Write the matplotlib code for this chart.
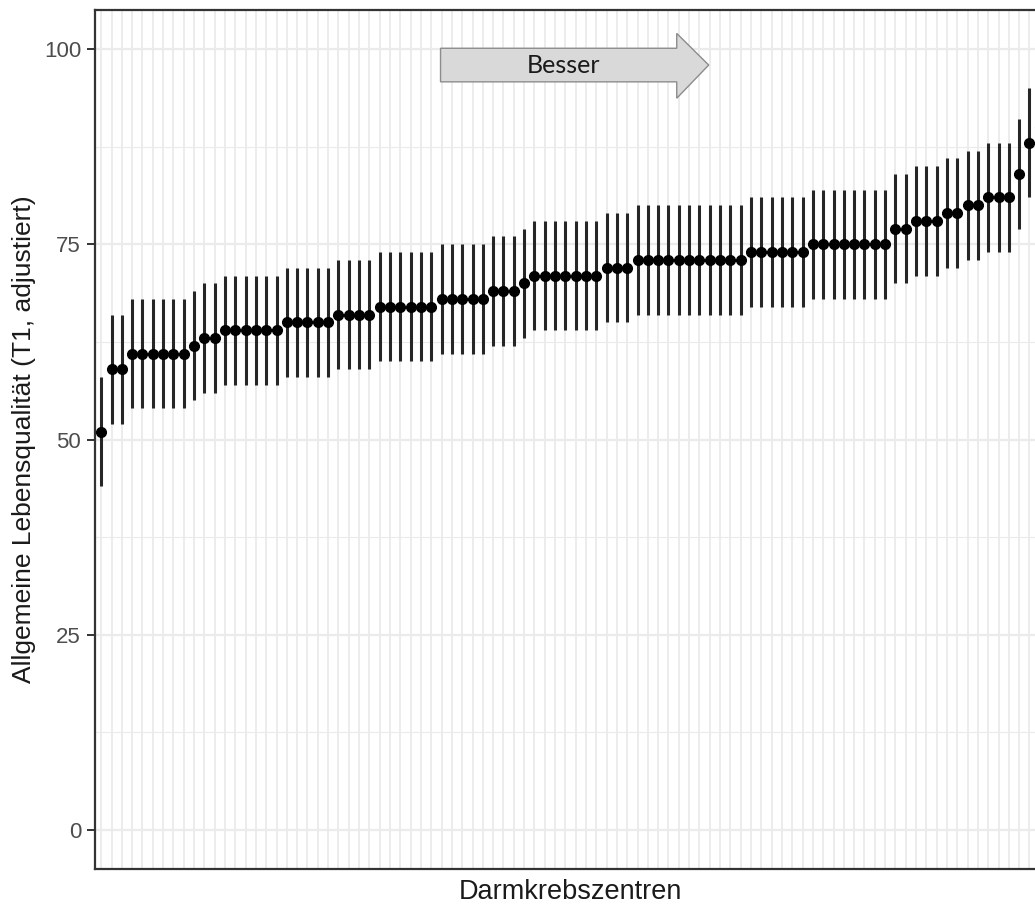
import matplotlib
matplotlib.use("Agg")
import matplotlib.pyplot as plt
import matplotlib.patches as patches
import numpy as np

# Adjusted quality-of-life score per centre (sorted) with 95% interval bounds
scores = [51, 59, 59, 61, 61, 61, 61, 61, 61, 62, 63, 63,
          64, 64, 64, 64, 64, 64, 65, 65, 65, 65, 65, 66, 66, 66, 66,
          67, 67, 67, 67, 67, 67, 68, 68, 68, 68, 68, 69, 69, 69, 70,
          71, 71, 71, 71, 71, 71, 71, 72, 72, 72,
          73, 73, 73, 73, 73, 73, 73, 73, 73, 73, 73,
          74, 74, 74, 74, 74, 74, 75, 75, 75, 75, 75, 75, 75, 75,
          77, 77, 78, 78, 78, 79, 79, 80, 80, 81, 81, 81, 84, 88, 90]
lower = [44, 52, 52, 54, 54, 54, 54, 54, 54, 55, 56, 56,
         57, 57, 57, 57, 57, 57, 58, 58, 58, 58, 58, 59, 59, 59, 59,
         60, 60, 60, 60, 60, 60, 61, 61, 61, 61, 61, 62, 62, 62, 63,
         64, 64, 64, 64, 64, 64, 64, 65, 65, 65,
         66, 66, 66, 66, 66, 66, 66, 66, 66, 66, 66,
         67, 67, 67, 67, 67, 67, 68, 68, 68, 68, 68, 68, 68, 68,
         70, 70, 71, 71, 71, 72, 72, 73, 73, 74, 74, 74, 77, 81, 83]
upper = [58, 66, 66, 68, 68, 68, 68, 68, 68, 69, 70, 70,
         71, 71, 71, 71, 71, 71, 72, 72, 72, 72, 72, 73, 73, 73, 73,
         74, 74, 74, 74, 74, 74, 75, 75, 75, 75, 75, 76, 76, 76, 77,
         78, 78, 78, 78, 78, 78, 78, 79, 79, 79,
         80, 80, 80, 80, 80, 80, 80, 80, 80, 80, 80,
         81, 81, 81, 81, 81, 81, 82, 82, 82, 82, 82, 82, 82, 82,
         84, 84, 85, 85, 85, 86, 86, 87, 87, 88, 88, 88, 91, 95, 97]
y_ticks = [0, 25, 50, 75, 100]

plt.rcParams["font.family"] = ["Liberation Sans", "DejaVu Sans"]

n = len(scores)
x = np.arange(1, n + 1)

fig = plt.figure(figsize=(10.35, 9.08), dpi=100)
W, H = 1035, 908
# panel runs off the right edge of the canvas
ax = fig.add_axes([95 / W, 39 / H, (1046 - 95) / W, (869 - 10) / H])

ax.set_xlim(0.4, n + 0.6)
ax.set_ylim(-5, 105)

# ggplot-style grid
for xi in x:
    ax.axvline(xi, color="#EBEBEB", lw=1.3, zorder=0)
for yv in [12.5, 37.5, 62.5, 87.5]:
    ax.axhline(yv, color="#EBEBEB", lw=0.8, zorder=0)
for yv in y_ticks:
    ax.axhline(yv, color="#EBEBEB", lw=1.6, zorder=0)

ax.vlines(x, lower, upper, color="#262626", lw=2.2, zorder=2)
ax.plot(x, scores, "o", color="black", ms=7.0, zorder=3)

ax.set_xticks([])
ax.set_yticks(y_ticks)
ax.set_yticklabels([str(v) for v in y_ticks], fontsize=16, color="#4D4D4D")
ax.tick_params(axis="y", length=6, width=1.4, color="#333333", pad=4)

for side in ["left", "bottom", "top", "right"]:
    ax.spines[side].set_color("#333333")
    ax.spines[side].set_linewidth(1.6)

ax.set_xlabel("Darmkrebszentren", fontsize=19.5, color="#1A1A1A", labelpad=7)
ax.set_ylabel("Allgemeine Lebensqualität (T1, adjustiert)", fontsize=19,
              color="#1A1A1A", labelpad=6)

# "better" arrow above the points
x0, x_head, x_tip = 33.9, 56.8, 59.9
y_lo, y_hi, y_bot, y_top = 95.8, 100.1, 93.7, 102.0
arrow = patches.Polygon(
    [(x0, y_lo), (x_head, y_lo), (x_head, y_bot), (x_tip, (y_lo + y_hi) / 2),
     (x_head, y_top), (x_head, y_hi), (x0, y_hi)],
    closed=True, facecolor="#D9D9D9", edgecolor="#8C8C8C", lw=1.0, zorder=4)
ax.add_patch(arrow)
ax.text((x0 + x_head) / 2 + 0.5, (y_lo + y_hi) / 2, "Besser", fontsize=18,
        family=["Lato", "DejaVu Sans"], color="#1A1A1A",
        ha="center", va="center", zorder=5)

fig.savefig("out.png", dpi=100)
